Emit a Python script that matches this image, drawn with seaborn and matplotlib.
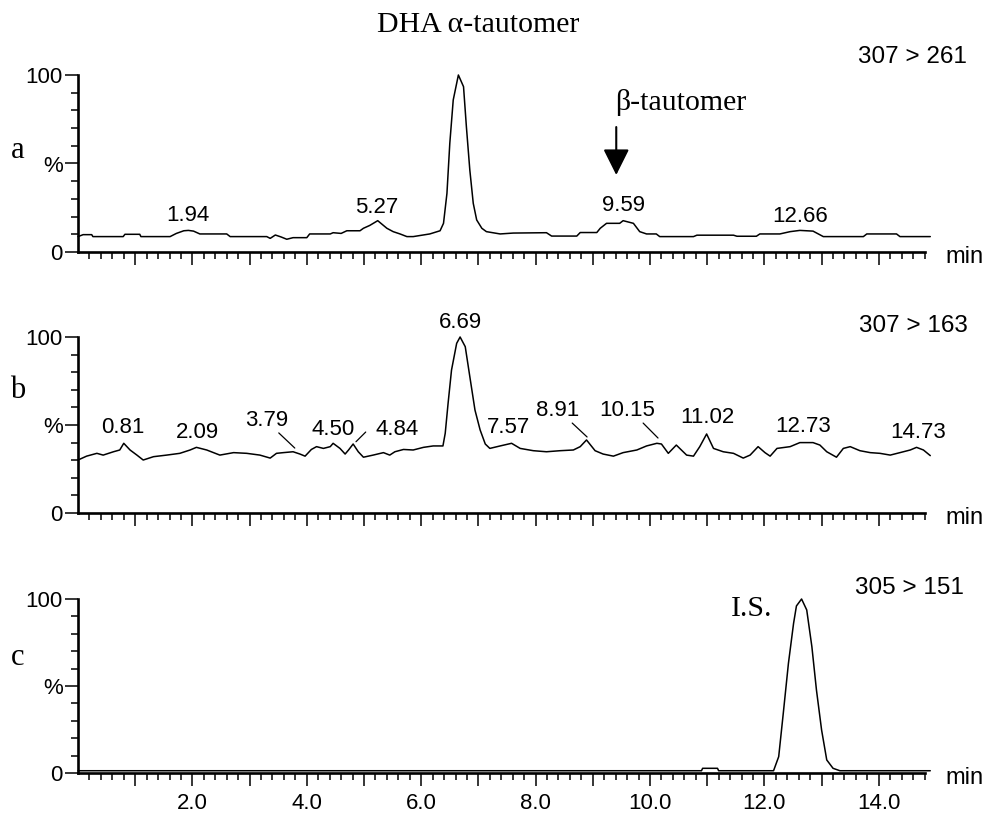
import numpy as np
import pandas as pd
import matplotlib
matplotlib.use("Agg")
import matplotlib.pyplot as plt
import seaborn as sns
from matplotlib.ticker import FixedLocator, FuncFormatter

# ---------------- data ----------------
time_a = [0.0, 0.09, 0.24, 0.26, 0.79, 0.82, 1.08, 1.1, 1.61, 1.72, 1.85, 1.93, 2.02, 2.13, 2.6, 2.66,
          3.3, 3.36, 3.45, 3.55, 3.65, 3.76, 4.0, 4.05, 4.41, 4.46, 4.6, 4.7, 4.93, 4.99, 5.1, 5.24,
          5.4, 5.51, 5.63, 5.75, 5.86, 6.15, 6.33, 6.39, 6.45, 6.5, 6.56, 6.65, 6.74, 6.79, 6.85,
          6.91, 6.97, 7.06, 7.14, 7.38, 7.61, 8.19, 8.28, 8.72, 8.78, 9.07, 9.13, 9.24, 9.47, 9.53,
          9.71, 9.82, 9.94, 10.11, 10.17, 10.76, 10.82, 11.46, 11.52, 11.86, 11.92, 12.27, 12.45,
          12.62, 12.85, 13.03, 13.73, 13.79, 14.02, 14.31, 14.37, 14.9]
signal_a = [8.7, 9.8, 9.8, 8.7, 8.7, 10.0, 10.0, 8.7, 8.7, 10.5, 12.0, 12.2, 11.8, 10.2, 10.2, 8.7,
            8.7, 7.7, 9.6, 8.5, 7.2, 8.1, 8.1, 10.2, 10.2, 10.9, 10.5, 12.0, 12.0, 13.4, 15.0, 17.7,
            13.4, 11.5, 10.2, 8.7, 8.7, 10.2, 12.0, 16.2, 33.1, 61.4, 85.9, 100, 93.4, 70.8, 46.3,
            27.5, 18.1, 13.4, 11.5, 10.2, 10.7, 10.9, 9.0, 9.0, 11.0, 11.0, 13.4, 16.2, 16.2, 17.7,
            16.2, 11.5, 10.2, 10.2, 8.7, 8.7, 9.5, 9.5, 8.9, 8.9, 10.2, 10.2, 11.5,
            12.2, 11.8, 8.7, 8.7, 10.2, 10.2, 10.2, 8.7, 8.7]

time_b = [0, 0.15, 0.33, 0.44, 0.62, 0.73, 0.80, 0.91, 1.03, 1.14, 1.32, 1.55, 1.78, 1.96, 2.07,
          2.25, 2.48, 2.72, 2.95, 3.18, 3.36, 3.47, 3.59, 3.76, 3.88, 3.97, 4.08, 4.17, 4.29, 4.41,
          4.46, 4.58, 4.67, 4.73, 4.81, 4.9, 4.99, 5.16, 5.34, 5.45, 5.54, 5.69, 5.86, 6.04, 6.21,
          6.38, 6.42, 6.47, 6.53, 6.62, 6.68, 6.77, 6.85, 6.94, 7.03, 7.12, 7.2, 7.38, 7.58, 7.73,
          7.96, 8.19, 8.43, 8.66, 8.78, 8.89, 9.04, 9.18, 9.36, 9.53, 9.77, 9.94, 10.12, 10.2,
          10.32, 10.46, 10.64, 10.76, 10.87, 10.99, 11.11, 11.28, 11.46, 11.63, 11.75, 11.89,
          12.01, 12.1, 12.22, 12.45, 12.62, 12.85, 12.97, 13.09, 13.26, 13.38, 13.5, 13.67, 13.85,
          14.02, 14.2, 14.37, 14.55, 14.66, 14.78, 14.9]
signal_b = [30.1, 32.3, 33.9, 32.9, 34.8, 35.8, 39.6, 35.8, 32.9, 30.1, 32.0, 32.9, 33.9, 35.8, 37.3,
            35.8, 32.9, 34.3, 33.9, 32.9, 31.2, 33.9, 34.3, 34.8, 33.5, 32.3, 36.1, 37.7, 36.7, 37.7,
            39.6, 36.7, 33.5, 35.8, 39.2, 34.8, 31.7, 32.9, 34.3, 32.9, 34.8, 36.1, 35.8, 37.3, 38.1,
            38.1, 45.3, 62.3, 81.2, 96.4, 100, 94.5, 77.5, 58.5, 47.2, 39.2, 36.7, 38.1, 39.6, 36.7,
            35.4, 34.8, 35.4, 35.8, 37.7, 41.5, 35.4, 33.5, 32.3, 34.3, 35.8, 38.1, 39.6, 39.2,
            33.9, 38.6, 32.9, 32.3, 37.7, 44.9, 36.7, 34.8, 33.9, 31.2, 32.9, 37.7,
            34.3, 32.3, 36.7, 37.7, 40.0, 40.0, 38.6, 34.8, 31.7, 36.7, 37.7, 35.4, 34.3,
            33.9, 32.9, 34.3, 35.8, 37.3, 35.8, 32.6]

time_c = [0, 10.9, 10.92, 11.18, 11.2, 12.16, 12.25, 12.33, 12.42, 12.51, 12.56, 12.65, 12.74,
          12.83, 12.91, 13.0, 13.09, 13.2, 13.32, 14.9]
signal_c = [1.3, 1.3, 2.7, 2.7, 1.3, 1.3, 9.4, 34.3, 63, 86, 96, 100, 93.7,
            72.6, 47.7, 24.7, 7.5, 2.7, 1.3, 1.3]

peak_labels_a = ["1.94", "5.27", "9.59", "12.66"]
peak_labels_b = ["0.81", "2.09", "3.79", "4.50", "4.84", "6.69", "7.57", "8.91",
                 "10.15", "11.02", "12.73", "14.73"]
transitions = ["307 > 261", "307 > 163", "305 > 151"]
panel_letters = ["a", "b", "c"]
x_tick_labels = ["2.0", "4.0", "6.0", "8.0", "10.0", "12.0", "14.0"]
y_tick_labels = ["0", "%", "100"]

# ---------------- layout (positions, not data) ----------------
label_pos_a = {"1.94": (1.92, 20.9), "5.27": (5.23, 25.4), "9.59": (9.53, 26.0), "12.66": (12.62, 19.8)}
label_pos_b = {"0.81": (0.79, 48.3), "2.09": (2.08, 46.0), "3.79": (3.30, 52.8), "4.50": (4.46, 47.7),
               "4.84": (5.58, 47.7), "6.69": (6.68, 108.5), "7.57": (7.52, 48.3), "8.91": (8.39, 58.5),
               "10.15": (9.60, 58.5), "11.02": (11.0, 54.0), "12.73": (12.68, 48.9), "14.73": (14.69, 46.0)}
leaders_b = {"3.79": ((3.51, 45.5), (3.79, 36.9)),
             "4.84": ((5.03, 46.0), (4.86, 40.5)),
             "8.91": ((8.64, 51.1), (8.90, 43.2)),
             "10.15": ((9.88, 51.1), (10.14, 42.6))}

W, H = 988, 817
X0, X1 = 78, 925
panels_px = [(75, 252), (337, 513), (599, 773)]   # (top=100%, bottom=0%)
XMAX = (X1 - X0) / 57.2

sns.set_style("ticks")
plt.rcParams["font.family"] = ["Liberation Sans", "DejaVu Sans"]
for k in ["text.color", "xtick.color", "ytick.color", "axes.labelcolor", "axes.edgecolor"]:
    plt.rcParams[k] = "black"
SERIF = ["Liberation Serif", "DejaVu Serif"]

fig = plt.figure(figsize=(W / 100, H / 100), dpi=100)

traces = [(time_a, signal_a), (time_b, signal_b), (time_c, signal_c)]
axes = []
for i, ((t, s), (ptop, pbot)) in enumerate(zip(traces, panels_px)):
    ax = fig.add_axes([X0 / W, 1 - pbot / H, (X1 - X0) / W, (pbot - ptop) / H])
    df = pd.DataFrame({"time": t, "signal": s})
    sns.lineplot(data=df, x="time", y="signal", ax=ax, color="black", lw=1.1,
                 estimator=None, sort=False)
    for ln in ax.lines:
        ln.set_clip_on(False)
    ax.set_xlim(0, XMAX)
    ax.set_ylim(0, 100)
    ax.set_xlabel("")
    ax.set_ylabel("")
    ax.patch.set_alpha(0)
    for sp in ["top", "right"]:
        ax.spines[sp].set_visible(False)
    for sp in ["left", "bottom"]:
        ax.spines[sp].set_linewidth(1.9)
        ax.spines[sp].set_color("black")
    # ticks
    ax.xaxis.set_major_locator(FixedLocator(np.arange(1, 15)))
    ax.xaxis.set_minor_locator(FixedLocator([v for v in np.arange(0.2, XMAX, 0.2)
                                             if abs(v - round(v)) > 0.05]))
    if i == 2:
        lab = {float(l): l for l in x_tick_labels}
        ax.xaxis.set_major_formatter(FuncFormatter(lambda v, p: lab.get(float(round(v, 1)), "")))
    else:
        ax.xaxis.set_major_formatter(FuncFormatter(lambda v, p: ""))
    ax.yaxis.set_major_locator(FixedLocator([0, 50, 100]))
    ax.yaxis.set_minor_locator(FixedLocator([10, 20, 30, 40, 60, 70, 80, 90]))
    ax.set_yticklabels(y_tick_labels)
    ax.tick_params(axis="both", which="both", bottom=True, left=True, top=False, right=False)
    ax.tick_params(axis="both", which="major", direction="out", length=9.5, width=1.1,
                   color="black", labelsize=16, pad=1.5, labelcolor="black")
    ax.tick_params(axis="both", which="minor", direction="out", length=5, width=1.1, color="black")
    ax.tick_params(axis="x", which="major", pad=5)
    # panel letter, transition, min
    fig.text(18 / W, 1 - [158, 398, 665][i] / H, panel_letters[i], family=SERIF,
             fontsize=22, ha="center", va="baseline")
    fig.text([967, 968, 964][i] / W, 1 - [57, 326, 588][i] / H, transitions[i],
             fontsize=17.5, ha="right", va="center")
    fig.text(945 / W, 1 - (pbot + 5) / H, "min", fontsize=17, ha="left", va="center")
    axes.append(ax)

ax_a, ax_b, ax_c = axes
for l in peak_labels_a:
    x, y = label_pos_a[l]
    ax_a.text(x, y, l, fontsize=16, ha="center", va="center", clip_on=False)
for l in peak_labels_b:
    x, y = label_pos_b[l]
    ax_b.text(x, y, l, fontsize=16, ha="center", va="center", clip_on=False)
    if l in leaders_b:
        (x1, y1), (x2, y2) = leaders_b[l]
        ax_b.plot([x1, x2], [y1, y2], color="black", lw=0.9, clip_on=False)

# annotations
fig.text(478 / W, 1 - 25 / H, "DHA \u03b1-tautomer", family=SERIF, fontsize=21.5,
         ha="center", va="center")
fig.text(681 / W, 1 - 103 / H, "\u03b2-tautomer", family=SERIF, fontsize=21.5,
         ha="center", va="center")
ax_a.annotate("", xy=(9.41, 43.5), xytext=(9.41, 70.6),
              arrowprops=dict(arrowstyle="-|>,head_length=0.8,head_width=0.4",
                              lw=1.5, color="black", mutation_scale=20,
                              shrinkA=0, shrinkB=0), annotation_clip=False)
fig.text(752 / W, 1 - 609 / H, "I.S.", family=SERIF, fontsize=21.5, ha="center", va="center")

fig.savefig("out.png", dpi=100)
